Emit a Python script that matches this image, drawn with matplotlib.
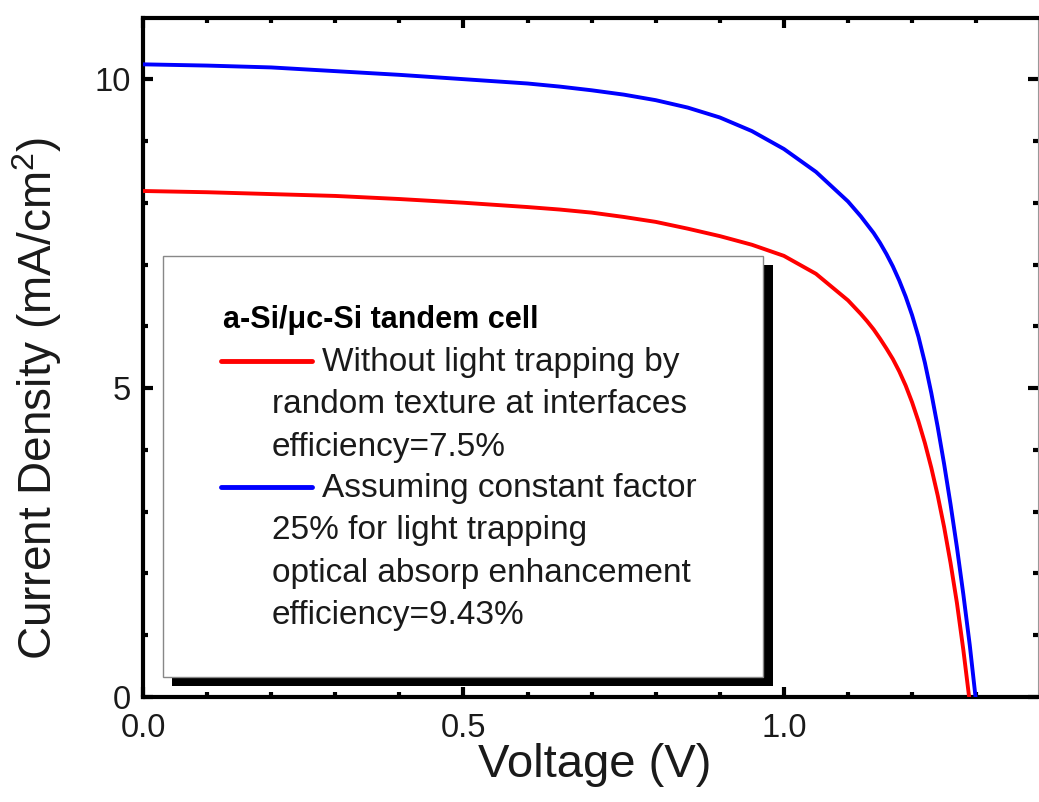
import matplotlib
matplotlib.use('Agg')
import matplotlib.pyplot as plt
from matplotlib.patches import Rectangle
from matplotlib.lines import Line2D
from matplotlib.ticker import MultipleLocator

plt.rcParams['font.family'] = ['Liberation Sans', 'DejaVu Sans']
plt.rcParams['mathtext.fontset'] = 'custom'
plt.rcParams['mathtext.rm'] = 'Liberation Sans'

# J-V curves (V in volts, J in mA/cm2)
v_red = [0.0, 0.1, 0.2, 0.3, 0.4, 0.5, 0.6, 0.65, 0.7, 0.75, 0.8, 0.85, 0.9, 0.95,
         1.0, 1.05, 1.1, 1.11, 1.12, 1.13, 1.14, 1.15, 1.16, 1.17, 1.18, 1.19,
         1.2, 1.21, 1.22, 1.23, 1.24, 1.25, 1.26, 1.27, 1.28, 1.289]
j_red = [8.19, 8.17, 8.14, 8.11, 8.06, 8.00, 7.93, 7.89, 7.84, 7.77, 7.69, 7.58, 7.46, 7.32,
         7.14, 6.85, 6.42, 6.31, 6.20, 6.08, 5.95, 5.80, 5.64, 5.47, 5.27, 5.04,
         4.77, 4.46, 4.11, 3.71, 3.26, 2.75, 2.17, 1.52, 0.76, 0.0]

v_blue = [0.0, 0.1, 0.2, 0.3, 0.4, 0.5, 0.6, 0.65, 0.7, 0.75, 0.8, 0.85, 0.9, 0.95,
          1.0, 1.05, 1.1, 1.12, 1.14, 1.15, 1.16, 1.17, 1.18, 1.19, 1.2, 1.21,
          1.22, 1.23, 1.24, 1.25, 1.26, 1.27, 1.28, 1.29, 1.299]
j_blue = [10.24, 10.22, 10.19, 10.13, 10.07, 10.00, 9.93, 9.88, 9.82, 9.75, 9.66, 9.54, 9.38, 9.16,
          8.87, 8.50, 8.02, 7.78, 7.51, 7.35, 7.17, 6.97, 6.74, 6.48, 6.18, 5.83,
          5.41, 4.92, 4.37, 3.77, 3.12, 2.42, 1.66, 0.84, 0.0]

legend_title = 'a-Si/\u03bcc-Si tandem cell'
red_text = ['Without light trapping by', 'random texture at interfaces', 'efficiency=7.5%']
blue_text = ['Assuming constant factor', '25% for light trapping',
             'optical absorp enhancement', 'efficiency=9.43%']

W, H = 1039, 802


def fpx(x, y):
    # reference pixel -> figure fraction
    return x / W, 1 - y / H


fig = plt.figure(figsize=(W / 100, H / 100), dpi=100)
ax = fig.add_axes([143 / W, 1 - 697 / H, (1037.7 - 143) / W, (697 - 18) / H])

ax.plot(v_red, j_red, color='#ff0000', lw=2.8, zorder=3)
ax.plot(v_blue, j_blue, color='#0000ff', lw=2.8, zorder=3)

ax.set_xlim(0, 1.396)
ax.set_ylim(0, 10.99)
ax.xaxis.set_major_locator(MultipleLocator(0.5))
ax.xaxis.set_minor_locator(MultipleLocator(0.1))
ax.yaxis.set_major_locator(MultipleLocator(5))
ax.yaxis.set_minor_locator(MultipleLocator(1))
ax.xaxis.set_major_formatter(matplotlib.ticker.FormatStrFormatter('%.1f'))

ax.tick_params(which='both', direction='in', top=True, right=True,
               labelsize=23.5, labelcolor='#1a1a1a', width=3)
ax.tick_params(which='major', length=7.5, pad=9)
ax.tick_params(axis='x', which='major', pad=11.5)
ax.tick_params(which='minor', length=3.5)
for side in ['left', 'bottom', 'top']:
    ax.spines[side].set_linewidth(3)
ax.spines['right'].set_linewidth(0.8)
ax.spines['right'].set_color('#999999')

ax.set_xlabel('Voltage (V)', fontsize=34, color='#1a1a1a')
ax.set_ylabel('Current Density (mA/cm$^\\mathregular{2}$)', fontsize=33, color='#1a1a1a')
ax.xaxis.set_label_coords(0.505, -0.068)
ax.yaxis.set_label_coords(-0.088, 0.44)

# legend box with hard black drop shadow
x0, y0 = fpx(172, 686)
x1, y1 = fpx(773, 265)
ax.add_patch(Rectangle((x0, y0), x1 - x0, y1 - y0, transform=fig.transFigure,
                       facecolor='black', edgecolor='none', clip_on=False, zorder=5))
x0, y0 = fpx(163, 677)
x1, y1 = fpx(763, 256)
ax.add_patch(Rectangle((x0, y0), x1 - x0, y1 - y0, transform=fig.transFigure,
                       facecolor='white', edgecolor='#888888', lw=1, clip_on=False, zorder=6))

tx, ty = fpx(223, 328)
fig.text(tx, ty, legend_title, fontsize=22, fontweight='bold', va='baseline', zorder=7)

step = 42.3
for lines, color, base in [(red_text, '#ff0000', 371), (blue_text, '#0000ff', 497)]:
    hx0, hy = fpx(221, base - 10)
    hx1, _ = fpx(312, base - 10)
    fig.add_artist(Line2D([hx0, hx1], [hy, hy], transform=fig.transFigure, color=color,
                          lw=3.5, solid_capstyle='round', zorder=7))
    for i, line in enumerate(lines):
        lx = 322 if i == 0 else 272
        px_, py_ = fpx(lx, base + i * step)
        fig.text(px_, py_, line, fontsize=24, color='#1a1a1a', va='baseline', zorder=7)

fig.savefig('out.png', dpi=100)
